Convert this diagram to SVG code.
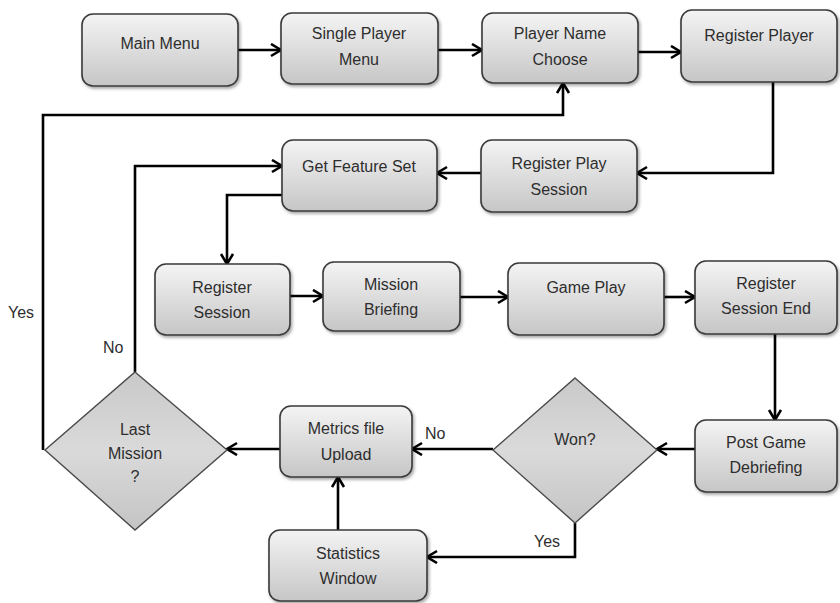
<svg xmlns="http://www.w3.org/2000/svg" width="840" height="603" viewBox="0 0 840 603">
  <style>
    .box { fill: url(#boxFill); stroke: #3a3a3a; stroke-width: 1.6; filter: url(#shadow); }
    .dia { fill: url(#diaFill); stroke: #4a4a4a; stroke-width: 1.4; }
    .lbl { font-family: "Liberation Sans", Arial, sans-serif; font-size: 16px; fill: #2e2e2e; text-anchor: middle; }
    .note { font-family: "Liberation Sans", Arial, sans-serif; font-size: 16px; fill: #2e2e2e; }
    .wire { fill: none; stroke: #000; stroke-width: 2.6; stroke-linejoin: miter; }
    .arrow { marker-end: url(#head); }
  </style>
  <defs>
    <linearGradient id="boxFill" x1="0" y1="0" x2="0" y2="1">
      <stop offset="0" stop-color="#f4f4f4"/>
      <stop offset="1" stop-color="#c6c6c6"/>
    </linearGradient>
    <linearGradient id="diaFill" x1="0" y1="0" x2="0" y2="1">
      <stop offset="0" stop-color="#c9c9c9"/>
      <stop offset="0.5" stop-color="#dadada"/>
      <stop offset="1" stop-color="#c4c4c4"/>
    </linearGradient>
    <filter id="shadow" x="-10%" y="-10%" width="125%" height="130%">
      <feDropShadow dx="1.5" dy="2" stdDeviation="1.5" flood-color="#000" flood-opacity="0.35"/>
    </filter>
    <marker id="head" markerUnits="userSpaceOnUse" markerWidth="14" markerHeight="16" refX="11" refY="7" orient="auto">
      <path d="M1,1 L11,7 L1,13" fill="none" stroke="#000" stroke-width="2.6"/>
    </marker>
  </defs>

  <!-- connectors -->
  <g id="connectors">
    <path class="wire arrow" d="M238,50 H281"/>
    <path class="wire arrow" d="M438,50 H482"/>
    <path class="wire arrow" d="M638,52 H681"/>
    <path class="wire arrow" d="M773,82 V173 H637"/>
    <path class="wire arrow" d="M481,173 H437"/>
    <path class="wire arrow" d="M282,195 H227 V264"/>
    <path class="wire arrow" d="M290,296 H323"/>
    <path class="wire arrow" d="M460,297 H508"/>
    <path class="wire arrow" d="M664,297 H695"/>
    <path class="wire arrow" d="M775,334 V420"/>
    <path class="wire arrow" d="M695,449 H657"/>
    <path class="wire arrow" d="M493,449 H412"/>
    <path class="wire arrow" d="M575,523 V557 H427"/>
    <path class="wire arrow" d="M338,530 V477"/>
    <path class="wire arrow" d="M280,449 H227"/>
    <path class="wire arrow" d="M135,372 V166 H282"/>
    <path class="wire arrow" d="M43,450 V115 H563 V83"/>
    <text class="note" x="8" y="318">Yes</text>
    <text class="note" x="103" y="353">No</text>
    <text class="note" x="425" y="439">No</text>
    <text class="note" x="534" y="547">Yes</text>
  </g>

  <g id="main-menu">
    <rect class="box" x="82" y="14" width="156" height="72" rx="11"/>
    <text class="lbl" x="160" y="49">Main Menu</text>
  </g>
  <g id="single-player-menu">
    <rect class="box" x="281" y="13" width="157" height="71" rx="11"/>
    <text class="lbl" x="359" y="39">Single Player</text>
    <text class="lbl" x="359" y="65">Menu</text>
  </g>
  <g id="player-name-choose">
    <rect class="box" x="482" y="13" width="156" height="70" rx="11"/>
    <text class="lbl" x="560" y="39">Player Name</text>
    <text class="lbl" x="560" y="65">Choose</text>
  </g>
  <g id="register-player">
    <rect class="box" x="681" y="10" width="156" height="72" rx="11"/>
    <text class="lbl" x="759" y="41">Register Player</text>
  </g>
  <g id="register-play-session">
    <rect class="box" x="481" y="140" width="156" height="72" rx="11"/>
    <text class="lbl" x="559" y="169">Register Play</text>
    <text class="lbl" x="559" y="195">Session</text>
  </g>
  <g id="get-feature-set">
    <rect class="box" x="282" y="140" width="155" height="71" rx="11"/>
    <text class="lbl" x="359" y="172">Get Feature Set</text>
  </g>
  <g id="register-session">
    <rect class="box" x="155" y="264" width="135" height="71" rx="11"/>
    <text class="lbl" x="222" y="293">Register</text>
    <text class="lbl" x="222" y="318">Session</text>
  </g>
  <g id="mission-briefing">
    <rect class="box" x="323" y="262" width="137" height="69" rx="11"/>
    <text class="lbl" x="391" y="290">Mission</text>
    <text class="lbl" x="391" y="315">Briefing</text>
  </g>
  <g id="game-play">
    <rect class="box" x="508" y="263" width="156" height="72" rx="11"/>
    <text class="lbl" x="586" y="293">Game Play</text>
  </g>
  <g id="register-session-end">
    <rect class="box" x="695" y="261" width="142" height="73" rx="11"/>
    <text class="lbl" x="766" y="289">Register</text>
    <text class="lbl" x="766" y="314">Session End</text>
  </g>
  <g id="post-game-debriefing">
    <rect class="box" x="695" y="420" width="142" height="72" rx="11"/>
    <text class="lbl" x="766" y="448">Post Game</text>
    <text class="lbl" x="766" y="473">Debriefing</text>
  </g>
  <g id="won">
    <polygon class="dia" points="575,378 657,450 575,523 493,450"/>
    <text class="lbl" x="575" y="445">Won?</text>
  </g>
  <g id="metrics-file-upload">
    <rect class="box" x="280" y="406" width="132" height="71" rx="11"/>
    <text class="lbl" x="346" y="434">Metrics file</text>
    <text class="lbl" x="346" y="460">Upload</text>
  </g>
  <g id="statistics-window">
    <rect class="box" x="269" y="530" width="158" height="71" rx="11"/>
    <text class="lbl" x="348" y="559">Statistics</text>
    <text class="lbl" x="348" y="584">Window</text>
  </g>
  <g id="last-mission">
    <polygon class="dia" points="135,372 227,450 135,530 45,450"/>
    <text class="lbl" x="135" y="435">Last</text>
    <text class="lbl" x="135" y="459">Mission</text>
    <text class="lbl" x="135" y="482">?</text>
  </g>
</svg>
